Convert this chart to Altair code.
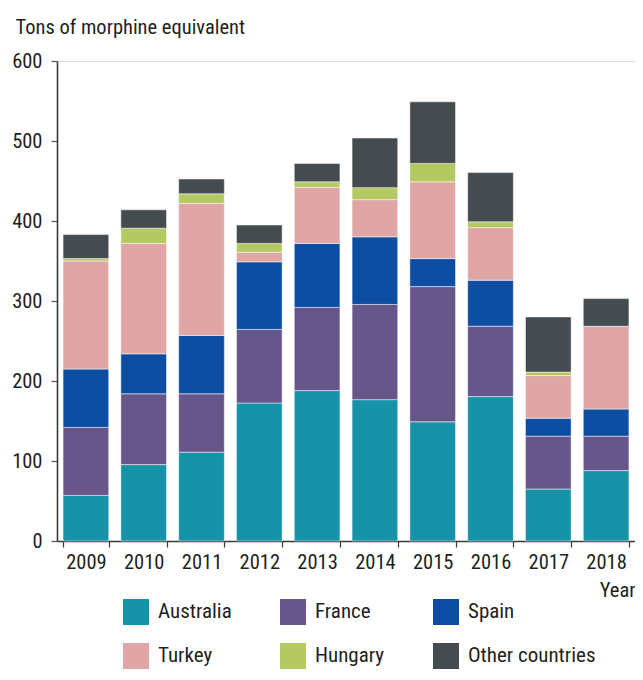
import altair as alt
import pandas as pd

years = ["2009", "2010", "2011", "2012", "2013", "2014", "2015", "2016", "2017", "2018"]
countries = ["Australia", "France", "Spain", "Turkey", "Hungary", "Other countries"]

australia = [57, 95.5, 111, 172.5, 188, 176.7, 149, 180.5, 65, 88]
france = [85, 88.5, 73, 92, 104, 119, 169, 88, 66, 43]
spain = [73, 50, 73, 84.5, 80, 84.5, 35, 57.5, 22.5, 34]
turkey = [135, 138, 165, 12, 70, 46.5, 96, 65.7, 53.3, 103.4]
hungary = [3, 19, 12, 11, 7, 15, 23, 7.3, 4.3, 0]
other = [30, 23, 18.5, 23, 23, 62, 77, 61.5, 69, 34.6]

colors = ["#1693a8", "#675689", "#0d4ea3", "#e0a6a6", "#b5c962", "#454c50"]
y_ticks = [0, 100, 200, 300, 400, 500, 600]

series = [australia, france, spain, turkey, hungary, other]
rows = []
for ci, (name, vals) in enumerate(zip(countries, series)):
    for yr, v in zip(years, vals):
        rows.append({"Year": yr, "Country": name, "Value": v, "idx": ci})
df = pd.DataFrame(rows)

FONT = "Roboto Condensed"
TXT = "#231f20"

PW, PH = 578, 480

chart = alt.Chart(df).mark_bar(
    stroke="white", strokeWidth=0.7, strokeOpacity=0.7
).encode(
    x=alt.X(
        "Year:N",
        sort=years,
        scale=alt.Scale(paddingInner=0.21, paddingOuter=0.105),
        axis=alt.Axis(
            title="Year",
            titleAnchor="end",
            titleAlign="right",
            titleX=PW,
            titleY=55,
            titleBaseline="alphabetic",
            titleFont=FONT,
            titleFontSize=20.5,
            titleFontWeight="normal",
            titleColor=TXT,
            labelAngle=0,
            labelFont=FONT,
            labelFontSize=20.5,
            labelColor=TXT,
            labelPadding=5,
            tickBand="extent",
            tickSize=6,
            tickColor="#3a3a3a",
            tickWidth=1.2,
            domainColor="#3a3a3a",
            domainWidth=1.6,
        ),
    ),
    y=alt.Y(
        "Value:Q",
        stack="zero",
        scale=alt.Scale(domain=[0, 600], nice=False),
        axis=alt.Axis(
            values=y_ticks,
            title="Tons of morphine equivalent",
            titleAngle=0,
            titleAlign="left",
            titleBaseline="alphabetic",
            titleX=-42,
            titleY=-28,
            titleFont=FONT,
            titleFontSize=20.5,
            titleFontWeight="normal",
            titleColor=TXT,
            labelFont=FONT,
            labelFontSize=20.5,
            labelColor=TXT,
            labelPadding=9,
            tickSize=6,
            tickColor="#555555",
            tickWidth=1.2,
            domainColor="#3a3a3a",
            domainWidth=1.6,
            grid=False,
        ),
    ),
    color=alt.Color(
        "Country:N",
        scale=alt.Scale(domain=countries, range=colors),
        legend=alt.Legend(
            title=None,
            orient="none",
            legendX=66,
            legendY=538,
            direction="horizontal",
            columns=3,
            symbolType="square",
            symbolSize=676,
            symbolStrokeWidth=0,
            symbolOpacity=1,
            labelFont=FONT,
            labelFontSize=21,
            labelColor=TXT,
            labelOffset=9,
            columnPadding=48,
            rowPadding=18,
            padding=0,
        ),
    ),
    order=alt.Order("idx:Q", sort="ascending"),
).properties(
    width=PW,
    height=PH,
    autosize=alt.AutoSizeParams(type="none"),
    padding={"left": 49, "top": 53, "right": 0, "bottom": 128},
).configure_view(stroke=None).configure(background="white")

chart.save("out.html", embed_options={"renderer": "svg", "actions": False})
